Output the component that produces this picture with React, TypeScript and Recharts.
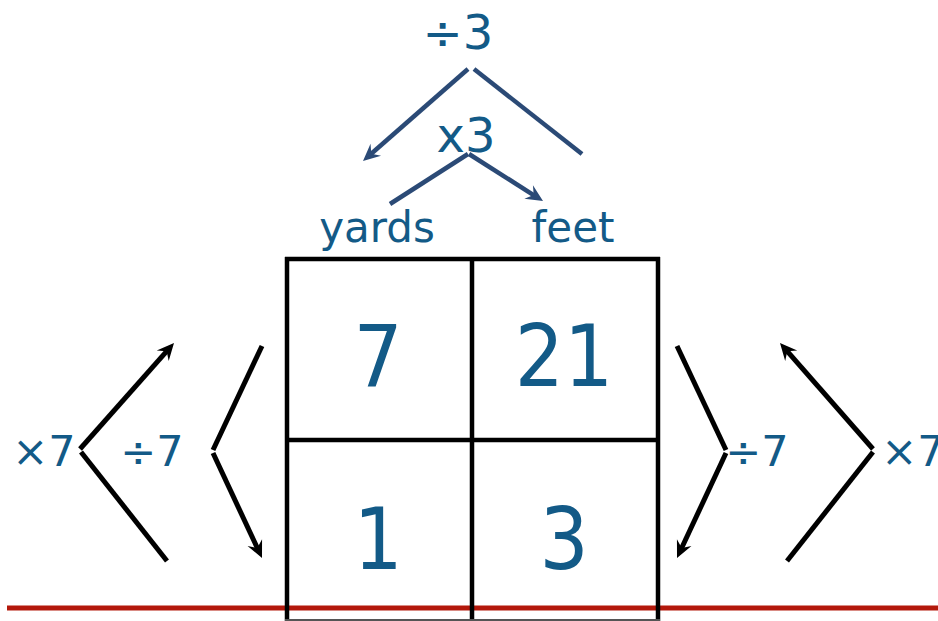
import { ComposedChart, XAxis, YAxis, Scatter, ReferenceLine } from 'recharts';

// conversion table: 7 yards = 21 feet, 1 yard = 3 feet
const topOps = ['÷3', 'x3'];
const units = ['yards', 'feet'];
const cellRows = [
  [7, 21],
  [1, 3],
];
const sideOps = ['×7', '÷7', '÷7', '×7'];

const W = 938;
const H = 621;
const BLUE = '#135a87';
const NAVY = '#2b4a76';
const RED = '#b3180b';
const FONT = "'DejaVu Sans', sans-serif";

// layout, in data units (x to the right, y downwards)
const COL_X = [378, 564];
const ROW_BASE = [386, 569];
const UNIT_X = [377, 573];
const UNIT_BASE = 242;
const TOP_POS = [
  { x: 458, y: 49 },
  { x: 466, y: 152 },
];
const SIDE_X = [44, 152, 757, 913];
const SIDE_BASE = 466;

type Pt = [number, number];
interface Seg {
  from: Pt;
  to: Pt;
  color: string;
  width: number;
  head?: boolean;
}

const GRID: Seg[] = [
  { from: [287, 257], to: [287, 621], color: '#000', width: 4.5 },
  { from: [472, 257], to: [472, 621], color: '#000', width: 4.5 },
  { from: [658, 257], to: [658, 621], color: '#000', width: 4.5 },
  { from: [285, 259], to: [660, 259], color: '#000', width: 4.5 },
  { from: [285, 440], to: [660, 440], color: '#000', width: 4.5 },
  { from: [285, 620], to: [660, 620], color: '#555', width: 2 },
];

const ARROWS: Seg[] = [
  // ÷3 / x3 between units
  { from: [468, 69], to: [363, 161], color: NAVY, width: 4.5, head: true },
  { from: [474, 69], to: [582, 154], color: NAVY, width: 4.5 },
  { from: [468, 154], to: [390, 204], color: NAVY, width: 4.5 },
  { from: [469, 154], to: [543, 201], color: NAVY, width: 4.5, head: true },
  // left side
  { from: [80, 449], to: [174, 343], color: '#000', width: 5, head: true },
  { from: [81, 452], to: [167, 561], color: '#000', width: 5 },
  { from: [262, 346], to: [213, 450], color: '#000', width: 5 },
  { from: [213, 453], to: [262, 558], color: '#000', width: 5, head: true },
  // right side
  { from: [677, 346], to: [726, 450], color: '#000', width: 5 },
  { from: [726, 453], to: [677, 558], color: '#000', width: 5, head: true },
  { from: [873, 449], to: [780, 343], color: '#000', width: 5, head: true },
  { from: [873, 452], to: [787, 561], color: '#000', width: 5 },
];

const cellPoints = cellRows.flatMap((row, r) =>
  row.map((v, c) => ({ x: COL_X[c], y: ROW_BASE[r], label: String(v) })),
);
const unitPoints = units.map((u, i) => ({ x: UNIT_X[i], y: UNIT_BASE, label: u }));
const topPoints = topOps.map((o, i) => ({ ...TOP_POS[i], label: o }));
const sidePoints = sideOps.map((o, i) => ({ x: SIDE_X[i], y: SIDE_BASE, label: o }));

function textShape(size: number, condensed = false) {
  return (props: any) => (
    <text
      x={props.cx}
      y={props.cy}
      textAnchor="middle"
      fill={BLUE}
      fontSize={size}
      fontFamily={condensed ? "'DejaVu Sans Condensed', 'DejaVu Sans', sans-serif" : FONT}
      style={condensed ? { fontStretch: 'condensed' } : undefined}
    >
      {props.payload.label}
    </text>
  );
}

function segShape(seg: Seg) {
  return (props: any) => {
    const { x1, y1, x2, y2 } = props;
    if (x1 == null) return <g />;
    const dx = x2 - x1;
    const dy = y2 - y1;
    const len = Math.hypot(dx, dy) || 1;
    const ux = dx / len;
    const uy = dy / len;
    const L = 17;
    const hw = 8;
    const ex = seg.head ? x2 - ux * L * 0.6 : x2;
    const ey = seg.head ? y2 - uy * L * 0.6 : y2;
    return (
      <g>
        <line x1={x1} y1={y1} x2={ex} y2={ey} stroke={seg.color} strokeWidth={seg.width} />
        {seg.head && (
          <polygon
            fill={seg.color}
            points={[
              [x2, y2],
              [x2 - ux * L - uy * hw, y2 - uy * L + ux * hw],
              [x2 - ux * L * 0.65, y2 - uy * L * 0.65],
              [x2 - ux * L + uy * hw, y2 - uy * L - ux * hw],
            ]
              .map((p) => p.join(','))
              .join(' ')}
          />
        )}
      </g>
    );
  };
}

function segLine(seg: Seg, key: string) {
  return (
    <ReferenceLine
      key={key}
      segment={[
        { x: seg.from[0], y: seg.from[1] },
        { x: seg.to[0], y: seg.to[1] },
      ]}
      ifOverflow="visible"
      shape={segShape(seg)}
    />
  );
}

export default function App() {
  return (
    <div style={{ position: 'absolute', left: 0, top: 0, background: '#fff' }}>
      <ComposedChart width={W} height={H} margin={{ top: 0, right: 0, bottom: 0, left: 0 }}>
        <XAxis type="number" dataKey="x" domain={[0, W]} hide />
        <YAxis type="number" dataKey="y" domain={[0, H]} reversed hide />
        {segLine({ from: [7, 608], to: [938, 608], color: RED, width: 5 }, 'red')}
        {GRID.map((s, i) => segLine(s, `g${i}`))}
        {ARROWS.map((s, i) => segLine(s, `a${i}`))}
        <Scatter data={cellPoints} shape={textShape(86, true)} isAnimationActive={false} />
        <Scatter data={unitPoints} shape={textShape(42)} isAnimationActive={false} />
        <Scatter data={topPoints} shape={textShape(48)} isAnimationActive={false} />
        <Scatter data={sidePoints} shape={textShape(43)} isAnimationActive={false} />
      </ComposedChart>
    </div>
  );
}
